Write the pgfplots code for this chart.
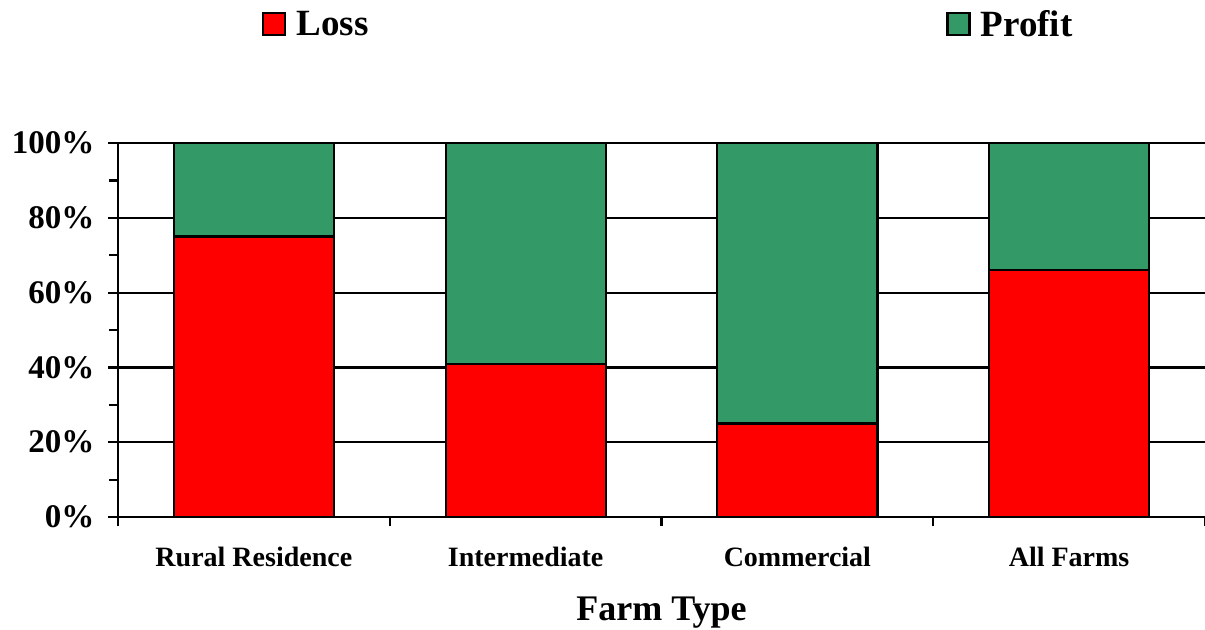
\documentclass[border=0pt]{standalone}
\usepackage{pgfplots}
\pgfplotsset{compat=1.18}
\usepackage{fontspec}
\setmainfont{Liberation Serif}
\usetikzlibrary{calc}
\definecolor{lossred}{HTML}{FF0000}
\definecolor{profitgreen}{HTML}{339966}

\begin{document}
\begin{tikzpicture}
\begin{axis}[name=ax, scale only axis, width=1087pt, height=374pt,
  ybar stacked, bar width=0.589,
  xmin=-0.5, xmax=3.5, ymin=0, ymax=100,
  axis x line*=bottom, axis y line*=left,
  axis line style={line width=2.4pt},
  xtick={0,1,2,3},
  xticklabels={Rural Residence, Intermediate, Commercial, All Farms},
  minor xtick={-0.5,0.5,1.5,2.5,3.5},
  major x tick style={draw=none},
  ytick={0,20,40,60,80,100}, minor y tick num=1,
  yticklabel={\pgfmathprintnumber{\tick}\%},
  /pgf/number format/assume math mode=true,
  tick align=outside, xtick pos=bottom, ytick pos=left,
  major tick length=10pt, minor tick length=9pt,
  every tick/.style={black, line width=2.2pt},
  ymajorgrids, major grid style={black, line width=2.2pt},
  yticklabel style={font=\fontsize{33}{36}\selectfont\bfseries, xshift=-10pt},
  xticklabel style={font=\fontsize{28}{32}\selectfont\bfseries, yshift=-17pt},
  xlabel={Farm Type},
  xlabel style={font=\fontsize{36}{40}\selectfont\bfseries, yshift=-23pt},
  legend columns=2,
  legend style={at={(0.1325,1.361)}, anchor=north west, draw=none, fill=none,
    inner sep=0pt, font=\fontsize{37}{40}\selectfont\bfseries,
    /tikz/every odd column/.append style={column sep=8pt},
    /tikz/every even column/.append style={column sep=576pt}},
  legend image code/.code={\draw[#1, draw=black, line width=2.2pt] (0pt,-11pt) rectangle (22pt,11pt);},
]
\addplot[fill=lossred, draw=black, line width=2.2pt] coordinates {(0,75) (1,41) (2,25) (3,66)};
\addplot[fill=profitgreen, draw=black, line width=2.2pt] coordinates {(0,25) (1,59) (2,75) (3,34)};
\legend{Loss, Profit}
\end{axis}
\pgfresetboundingbox
\path ($(ax.south west)+(-118pt,-112pt)$) rectangle ($(ax.north east)+(0pt,143pt)$);
\end{tikzpicture}
\end{document}
